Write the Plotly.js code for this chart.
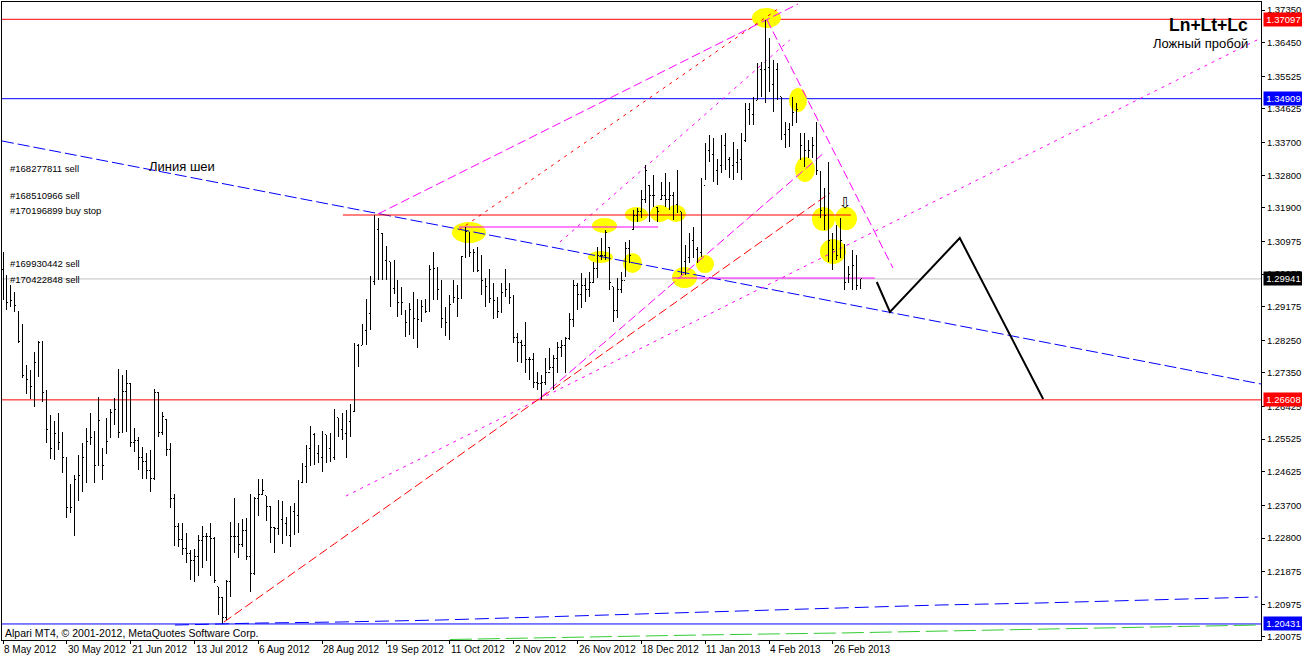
<!DOCTYPE html>
<html><head><meta charset="utf-8">
<script src="https://cdn.plot.ly/plotly-3.0.1.min.js"></script>
<style>html,body{margin:0;padding:0;background:#fff}#chart{width:1302px;height:657px}
.js-plotly-plot .ohlc path{shape-rendering:crispEdges}</style>
</head><body><div id="chart"></div>
<script>
// ---- daily EURUSD bars (8 May 2012 .. Mar 2013) ----
const open = [1.3019,1.2977,1.2930,1.2936,1.2903,1.2823,1.2727,1.2716,1.2699,1.2765,1.2818,1.2682,1.2580,1.2528,1.2567,1.2542,1.2501,1.2365,1.2365,1.2440,1.2451,1.2503,1.2545,1.2558,1.2481,1.2528,1.2514,1.2556,1.2627,1.2633,1.2572,1.2685,1.2707,1.2542,1.2550,1.2501,1.2492,1.2467,1.2443,1.2680,1.2572,1.2608,1.2525,1.2390,1.2313,1.2275,1.2250,1.2236,1.2217,1.2228,1.2272,1.2283,1.2283,1.2280,1.2145,1.2117,1.2060,1.2159,1.2283,1.2283,1.2261,1.2302,1.2230,1.2181,1.2390,1.2401,1.2396,1.2368,1.2310,1.2305,1.2332,1.2321,1.2288,1.2352,1.2343,1.2432,1.2476,1.2528,1.2564,1.2514,1.2501,1.2564,1.2528,1.2503,1.2611,1.2578,1.2567,1.2600,1.2630,1.2812,1.2812,1.2853,1.2900,1.2988,1.3129,1.3118,1.3046,1.3041,1.2969,1.2966,1.2930,1.2908,1.2873,1.2911,1.2886,1.2881,1.2917,1.2905,1.3019,1.3024,1.2964,1.2884,1.2875,1.2928,1.2944,1.2941,1.3055,1.3123,1.3066,1.3066,1.3016,1.2991,1.2972,1.2941,1.2936,1.2903,1.2958,1.2966,1.2944,1.2834,1.2818,1.2812,1.2771,1.2771,1.2710,1.2707,1.2710,1.2735,1.2751,1.2776,1.2806,1.2812,1.2829,1.2881,1.2975,1.2950,1.2977,1.2964,1.2983,1.3024,1.3060,1.3060,1.3082,1.2972,1.2908,1.2964,1.2991,1.3079,1.3129,1.3170,1.3179,1.3212,1.3253,1.3225,1.3192,1.3212,1.3225,1.3212,1.3225,1.3198,1.3179,1.3041,1.3052,1.3101,1.3074,1.3068,1.3253,1.3349,1.3336,1.3294,1.3308,1.3363,1.3322,1.3308,1.3316,1.3322,1.3377,1.3460,1.3446,1.3487,1.3570,1.3570,1.3576,1.3529,1.3570,1.3496,1.3391,1.3405,1.3418,1.3454,1.3396,1.3363,1.3349,1.3349,1.3363,1.3289,1.3184,1.3170,1.3101,1.3074,1.3060,1.3088,1.2983,1.3005,1.3032,1.2977];
const high = [1.3068,1.3005,1.2977,1.2958,1.2903,1.2870,1.2757,1.2743,1.2793,1.2823,1.2823,1.2688,1.2619,1.2603,1.2625,1.2572,1.2503,1.2429,1.2454,1.2509,1.2542,1.2583,1.2625,1.2575,1.2669,1.2528,1.2611,1.2636,1.2666,1.2746,1.2729,1.2743,1.2707,1.2583,1.2558,1.2531,1.2514,1.2523,1.2691,1.2680,1.2627,1.2608,1.2542,1.2401,1.2321,1.2321,1.2294,1.2247,1.2250,1.2288,1.2313,1.2294,1.2321,1.2283,1.2145,1.2117,1.2164,1.2324,1.2390,1.2321,1.2332,1.2335,1.2401,1.2393,1.2443,1.2443,1.2396,1.2368,1.2310,1.2385,1.2382,1.2338,1.2368,1.2377,1.2440,1.2487,1.2536,1.2589,1.2569,1.2536,1.2575,1.2564,1.2569,1.2636,1.2611,1.2625,1.2633,1.2649,1.2818,1.2815,1.2870,1.2939,1.3002,1.3170,1.3162,1.3121,1.3085,1.3041,1.3046,1.2991,1.2972,1.2908,1.2928,1.2958,1.2939,1.2936,1.2939,1.3032,1.3068,1.3027,1.2991,1.2917,1.2950,1.2991,1.2977,1.3057,1.3137,1.3123,1.3077,1.3082,1.3060,1.2997,1.3021,1.2983,1.2944,1.2983,1.3021,1.2983,1.2950,1.2845,1.2826,1.2875,1.2779,1.2790,1.2738,1.2729,1.2776,1.2804,1.2784,1.2820,1.2826,1.2834,1.2900,1.2991,1.2983,1.3010,1.2997,1.3013,1.3041,1.3082,1.3107,1.3129,1.3082,1.2972,1.2997,1.3013,1.3096,1.3101,1.3184,1.3190,1.3239,1.3308,1.3253,1.3281,1.3192,1.3261,1.3286,1.3261,1.3234,1.3294,1.3179,1.3088,1.3121,1.3137,1.3082,1.3272,1.3369,1.3391,1.3383,1.3325,1.3391,1.3396,1.3330,1.3371,1.3352,1.3396,1.3479,1.3479,1.3496,1.3589,1.3592,1.3708,1.3658,1.3598,1.3589,1.3496,1.3427,1.3424,1.3496,1.3479,1.3396,1.3396,1.3377,1.3385,1.3427,1.3289,1.3245,1.3316,1.3121,1.3143,1.3162,1.3088,1.3030,1.3074,1.3060,1.2994];
const low = [1.2936,1.2908,1.2917,1.2903,1.2818,1.2721,1.2677,1.2663,1.2641,1.2724,1.2655,1.2542,1.2498,1.2495,1.2523,1.2459,1.2335,1.2349,1.2286,1.2382,1.2407,1.2432,1.2536,1.2432,1.2481,1.2440,1.2514,1.2556,1.2592,1.2556,1.2569,1.2572,1.2531,1.2517,1.2467,1.2443,1.2443,1.2407,1.2440,1.2558,1.2564,1.2506,1.2363,1.2258,1.2255,1.2233,1.2211,1.2164,1.2159,1.2175,1.2197,1.2217,1.2175,1.2156,1.2068,1.2043,1.2054,1.2117,1.2239,1.2225,1.2255,1.2219,1.2131,1.2178,1.2341,1.2399,1.2327,1.2266,1.2239,1.2288,1.2263,1.2286,1.2255,1.2288,1.2294,1.2432,1.2432,1.2478,1.2481,1.2487,1.2462,1.2487,1.2489,1.2495,1.2558,1.2550,1.2501,1.2558,1.2627,1.2751,1.2812,1.2812,1.2853,1.2977,1.2991,1.2991,1.2991,1.2917,1.2953,1.2889,1.2895,1.2834,1.2840,1.2829,1.2804,1.2875,1.2900,1.2903,1.2936,1.2936,1.2859,1.2837,1.2826,1.2928,1.2889,1.2941,1.3052,1.3055,1.3013,1.3013,1.2950,1.2917,1.2928,1.2884,1.2886,1.2900,1.2944,1.2925,1.2818,1.2765,1.2762,1.2735,1.2716,1.2693,1.2688,1.2660,1.2702,1.2743,1.2688,1.2735,1.2779,1.2735,1.2826,1.2862,1.2908,1.2914,1.2930,1.2944,1.2983,1.2997,1.3046,1.3046,1.2964,1.2875,1.2886,1.2955,1.2999,1.3038,1.3129,1.3151,1.3162,1.3203,1.3151,1.3192,1.3151,1.3212,1.3192,1.3184,1.3157,1.3176,1.3005,1.3005,1.3038,1.3052,1.3038,1.3055,1.3267,1.3316,1.3261,1.3253,1.3286,1.3294,1.3272,1.3267,1.3286,1.3267,1.3371,1.3418,1.3418,1.3487,1.3496,1.3479,1.3509,1.3454,1.3487,1.3377,1.3355,1.3358,1.3418,1.3424,1.3322,1.3303,1.3327,1.3327,1.3281,1.3162,1.3129,1.3041,1.3019,1.3046,1.3052,1.2964,1.2983,1.2964,1.2964,1.2966];
const close = [1.2977,1.2930,1.2936,1.2922,1.2823,1.2727,1.2716,1.2699,1.2765,1.2818,1.2682,1.2580,1.2528,1.2567,1.2542,1.2501,1.2365,1.2365,1.2440,1.2451,1.2503,1.2545,1.2558,1.2481,1.2605,1.2481,1.2545,1.2627,1.2633,1.2572,1.2685,1.2707,1.2542,1.2550,1.2501,1.2492,1.2467,1.2443,1.2680,1.2572,1.2616,1.2525,1.2390,1.2313,1.2275,1.2250,1.2236,1.2217,1.2228,1.2272,1.2283,1.2283,1.2280,1.2164,1.2117,1.2060,1.2159,1.2283,1.2283,1.2261,1.2302,1.2230,1.2181,1.2390,1.2401,1.2412,1.2368,1.2310,1.2305,1.2332,1.2321,1.2288,1.2352,1.2343,1.2432,1.2476,1.2528,1.2564,1.2514,1.2501,1.2569,1.2528,1.2503,1.2592,1.2578,1.2567,1.2600,1.2630,1.2812,1.2754,1.2853,1.2900,1.2988,1.3129,1.3118,1.3046,1.3046,1.2969,1.2966,1.2930,1.2928,1.2873,1.2911,1.2886,1.2881,1.2917,1.2905,1.3019,1.3024,1.2964,1.2884,1.2875,1.2925,1.2944,1.2941,1.3055,1.3126,1.3066,1.3066,1.3016,1.2991,1.2972,1.2941,1.2936,1.2903,1.2958,1.2966,1.2944,1.2834,1.2818,1.2812,1.2771,1.2771,1.2710,1.2707,1.2710,1.2735,1.2751,1.2776,1.2806,1.2812,1.2829,1.2881,1.2975,1.2950,1.2977,1.2964,1.2983,1.3024,1.3060,1.3060,1.3123,1.2983,1.2908,1.2964,1.2991,1.3079,1.3060,1.3170,1.3179,1.3212,1.3294,1.3225,1.3225,1.3179,1.3225,1.3212,1.3225,1.3198,1.3184,1.3041,1.3052,1.3101,1.3074,1.3068,1.3253,1.3349,1.3336,1.3294,1.3308,1.3363,1.3322,1.3308,1.3316,1.3322,1.3377,1.3460,1.3446,1.3487,1.3570,1.3570,1.3576,1.3529,1.3570,1.3515,1.3391,1.3405,1.3410,1.3454,1.3460,1.3363,1.3349,1.3349,1.3363,1.3294,1.3184,1.3170,1.3101,1.3074,1.3060,1.3101,1.2983,1.3005,1.3032,1.2977,1.29941];

// ---- time axis labels (bar index -> label) ----
const dateTickIdx = [0,16,32,48,64,80,96,112,128,144,160,176,192,208];
const dateTickText = ['8 May 2012','30 May 2012','21 Jun 2012','13 Jul 2012','6 Aug 2012','28 Aug 2012','19 Sep 2012','11 Oct 2012','2 Nov 2012','26 Nov 2012','18 Dec 2012','11 Jan 2013','4 Feb 2013','26 Feb 2013'];
// ---- price axis labels ----
const priceTicks = [1.37350,1.36450,1.35525,1.34625,1.33700,1.32800,1.31900,1.30975,1.30075,1.29175,1.28250,1.27350,1.26425,1.25525,1.24625,1.23700,1.22800,1.21875,1.20975,1.20075];

// ---- horizontal price levels ----
const levelPrices = [1.37097, 1.34909, 1.29941, 1.26608, 1.20431];
const levelColors = ['#ff0000','#0000ff','#c0c0c0','#ff0000','#0000ff'];
const levelBoxBg = ['#ff0000','#0000ff','#000000','#ff0000','#0000ff'];

// ---- trend lines (bar index, price) ----
const neckX = [-0.25, 315.3],   neckY = [1.33743, 1.27045];
const supX = [55.39, 207.27],   supY = [1.20485, 1.32309];
const redDotX = [114.3, 194.2], redDotY = [1.31289, 1.37381];
const chanX = [93.98, 199.25],  chanY = [1.31731, 1.37519];
const lowDotX = [85.96, 315.3], lowDotY = [1.23958, 1.36582];
const midDashX = [134.59, 206.02], midDashY = [1.26659, 1.33439];
const steepDotX = [139.6, 197.2], steepDotY = [1.30959, 1.36527];
const downDashX = [191.5, 223.06], downDashY = [1.37078, 1.30242];
const redHX = [85.2, 212.5],   redHY = [1.31703, 1.31703];
const magH1X = [114.3, 164.2], magH1Y = [1.31372, 1.31372];
const magH2X = [167.7, 218.5], magH2Y = [1.29966, 1.29966];

// ---- forecast path ----
const fcX = [219.0, 222.3, 239.8, 260.7];
const fcY = [1.29856, 1.29029, 1.31069, 1.26632];

// ---- moving-average style lines at bottom ----
const maBlueX = [43.1,64.4,84.5,109.5,134.6,159.6,184.7,209.8,234.8,259.9,285.0,314.5];
const maBlueY = [1.20402,1.20457,1.20485,1.20540,1.20623,1.20706,1.20788,1.20871,1.20954,1.21009,1.21091,1.21174];
const maGreenX = [112.0,144.6,174.7,209.8,237.3,262.4,287.5,314.5];
const maGreenY = [1.20003,1.20071,1.20127,1.20182,1.20237,1.20292,1.20347,1.20402];

// ---- yellow highlight marks (centre bar index, centre price) ----
const hlX = [191.35,199.25,201.0,116.79,150.75,158.77,164.66,168.67,149.75,157.77,170.80,175.94,205.64,211.28,208.02];
const hlY = [1.37133,1.34873,1.32957,1.31221,1.31414,1.31717,1.31744,1.31744,1.30545,1.30380,1.29980,1.30352,1.31593,1.31606,1.30697];
const hlRx = [3.63,2.26,2.51,4.26,3.13,2.88,2.51,2.51,3.13,2.38,3.13,2.26,2.88,2.76,3.26];
const hlRy = [0.00276,0.00331,0.00345,0.00289,0.00207,0.00207,0.00234,0.00234,0.00165,0.00276,0.00289,0.00248,0.00331,0.00317,0.00345];

// ---- order labels ----
const orderText = ['#168277811 sell','#168510966 sell','#170196899 buy stop','#169930442 sell','#170422848 sell'];
const orderPrice = [1.32998, 1.32254, 1.31841, 1.30372, 1.29931];
const arrowX = 211.15, arrowY = 1.32034;

const barIndex = open.map((_, i) => i);
const FONT = 'Liberation Sans, Arial, sans-serif';

const shapes = [];
hlX.forEach((cx, k) => shapes.push({type:'circle', layer:'below', xref:'x', yref:'y',
  x0: cx - hlRx[k], x1: cx + hlRx[k], y0: hlY[k] - hlRy[k], y1: hlY[k] + hlRy[k],
  fillcolor:'#ffff00', line:{width:0}}));
levelPrices.forEach((p, k) => shapes.push({type:'line', layer:'below', xref:'paper', yref:'y',
  x0:0, x1:1, y0:p, y1:p, line:{color:levelColors[k], width:1}}));
function seg(xs, ys, color, dash, w) {
  shapes.push({type:'line', layer:'below', xref:'x', yref:'y', x0:xs[0], x1:xs[1], y0:ys[0], y1:ys[1],
    line:{color:color, width:w || 1, dash:dash}});
}
seg(neckX, neckY, '#0000ff', '12px,4px');
seg(supX, supY, '#ff0000', '9px,4px');
seg(redDotX, redDotY, '#ff0000', '3px,5px');
seg(chanX, chanY, '#ff00ff', '9px,4px');
seg(lowDotX, lowDotY, '#ff00ff', '3px,5px');
seg(midDashX, midDashY, '#ff00ff', '9px,4px');
seg(steepDotX, steepDotY, '#ff00ff', '3px,5px');
seg(downDashX, downDashY, '#ff00ff', '9px,4px');
seg(redHX, redHY, '#ff0000', 'solid');
seg(magH1X, magH1Y, '#ff00ff', 'solid');
seg(magH2X, magH2Y, '#ff00ff', 'solid');

const traces = [
  {type:'scatter', mode:'lines', x:maBlueX, y:maBlueY, line:{color:'#0000ff', width:1, dash:'14px,6px'}, hoverinfo:'skip'},
  {type:'scatter', mode:'lines', x:maGreenX, y:maGreenY, line:{color:'#32cd32', width:1, dash:'22px,6px'}, hoverinfo:'skip'},
  {type:'ohlc', x:barIndex, open:open, high:high, low:low, close:close, tickwidth:0.3,
   increasing:{line:{color:'#000000', width:1}}, decreasing:{line:{color:'#000000', width:1}}, hoverinfo:'skip'},
  {type:'scatter', mode:'lines', x:fcX, y:fcY, line:{color:'#000000', width:2}, hoverinfo:'skip'}
];

const annotations = [];
orderText.forEach((t, k) => annotations.push({xref:'paper', yref:'y', x:0.0048, y:orderPrice[k], xanchor:'left', yanchor:'middle',
  text:t, showarrow:false, font:{family:FONT, size:9.5, color:'#000'}}));
annotations.push({xref:'paper', yref:'y', x:0.1150, y:1.33034, xanchor:'left', yanchor:'middle', text:'Линия шеи', showarrow:false,
  font:{family:FONT, size:13, color:'#000'}});
annotations.push({xref:'paper', yref:'paper', x:0.9913, y:0.964, xanchor:'right', yanchor:'middle', text:'<b>Ln+Lt+Lc</b>', showarrow:false,
  font:{family:FONT, size:17.5, color:'#000'}});
annotations.push({xref:'paper', yref:'paper', x:0.9913, y:0.9357, xanchor:'right', yanchor:'middle', text:'Ложный пробой', showarrow:false,
  font:{family:FONT, size:13, color:'#000'}});
annotations.push({xref:'paper', yref:'paper', x:0.001, y:0.0105, xanchor:'left', yanchor:'middle', text:'Alpari MT4, © 2001-2012, MetaQuotes Software Corp.', showarrow:false,
  font:{family:FONT, size:10.5, color:'#000'}});
annotations.push({xref:'x', yref:'y', x:arrowX, y:arrowY, text:'⇩', showarrow:false, xanchor:'center', yanchor:'middle',
  font:{family:'DejaVu Sans', size:15, color:'#000'}});
levelPrices.forEach((p, k) => annotations.push({xref:'paper', yref:'y', x:1, xshift:2, y:p, xanchor:'left', yanchor:'middle',
  text:p.toFixed(5), showarrow:false, bgcolor:levelBoxBg[k], borderpad:1, width:37, align:'center',
  font:{family:FONT, size:9.5, color:'#fff'}}));
// date labels, left-aligned just right of each tick (MT4 style)
dateTickIdx.forEach((ix, k) => annotations.push({xref:'x', yref:'paper', x:ix, y:0, xanchor:'left', yanchor:'top',
  xshift:-1, yshift:-2, text:dateTickText[k], showarrow:false, font:{family:FONT, size:10, color:'#000'}}));

const layout = {
  width:1302, height:657, margin:{l:2, r:41, t:2, b:17},
  paper_bgcolor:'#ffffff', plot_bgcolor:'#ffffff', showlegend:false, hovermode:false,
  xaxis:{range:[-0.25, 315.3], showgrid:false, zeroline:false, showline:true, mirror:true, linecolor:'#000', linewidth:1,
    tickmode:'array', tickvals:dateTickIdx, ticktext:dateTickText, showticklabels:false, ticks:'outside', ticklen:3, tickcolor:'#000',
    rangeslider:{visible:false}, automargin:false, fixedrange:true},
  yaxis:{range:[1.19989, 1.37574], side:'right', showgrid:false, zeroline:false, showline:true, mirror:true, linecolor:'#000', linewidth:1,
    tickmode:'array', tickvals:priceTicks, ticktext:priceTicks.map(v => v.toFixed(5)), ticks:'outside', ticklen:3, tickcolor:'#000',
    tickfont:{family:FONT, size:9.5, color:'#000'}, automargin:false, fixedrange:true},
  shapes:shapes, annotations:annotations
};
Plotly.newPlot('chart', traces, layout, {displayModeBar:false, staticPlot:true});
</script></body></html>
